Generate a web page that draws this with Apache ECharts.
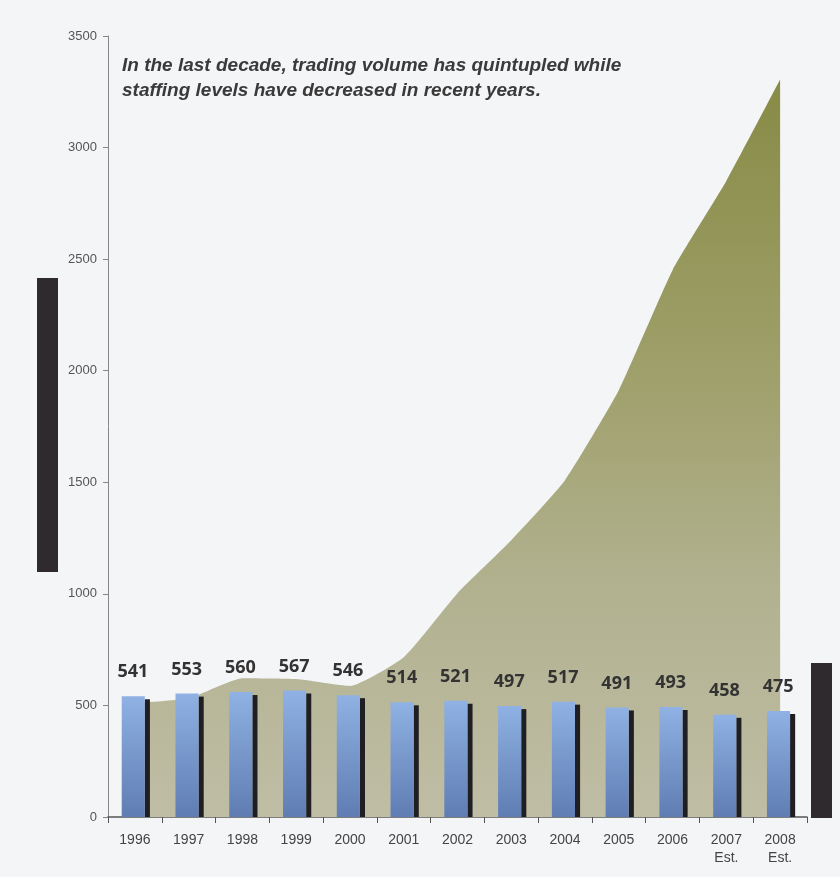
<!DOCTYPE html>
<html>
<head>
<meta charset="utf-8">
<script src="https://cdn.jsdelivr.net/npm/echarts@6/dist/echarts.min.js"></script>
<style>
html,body{margin:0;padding:0;background:#f4f5f7;}
#chart{width:840px;height:877px;}
</style>
</head>
<body>
<div id="chart"></div>
<script>
const categories = ['1996','1997','1998','1999','2000','2001','2002','2003','2004','2005','2006','2007\nEst.','2008\nEst.'];
const staffing = [541,553,560,567,546,514,521,497,517,491,493,458,475];
const tradingVolume = [510,532,622,618,587,716,1003,1240,1509,1912,2450,2850,3305];
const yTicks = {min:0, max:3500, interval:500};
const titleLines = ['In the last decade, trading volume has quintupled while','staffing levels have decreased in recent years.'];

const chart = echarts.init(document.getElementById('chart'), null, {renderer:'canvas'});

const barGradient = new echarts.graphic.LinearGradient(0,0,0,1,[
  {offset:0,color:'#8fb1e3'},{offset:1,color:'#5f7db3'}]);

function renderBar(params, api){
  const idx = api.value(0);
  const val = api.value(1);
  const top = api.coord([idx, val]);
  const base = api.coord([idx, 0]);
  const band = api.size([1,0])[0];
  const cx = top[0];
  const bx = cx - band*0.245;
  const bw = band*0.43;
  const sx = bx + bw;
  const sw = band*0.095;
  const h = base[1]-top[1];
  return {
    type:'group',
    children:[
      {type:'rect', shape:{x:sx, y:top[1]+3, width:sw, height:h-3}, style:{fill:'#1f1e23'}},
      {type:'rect', shape:{x:bx, y:top[1], width:bw, height:h}, style:{fill:barGradient}},
      {type:'text', x:cx-2, y:top[1]-24, style:{text:String(val), font:'bold 18px "Open Sans"', fill:'#333', align:'center', verticalAlign:'middle'}}
    ]
  };
}

chart.setOption({
  backgroundColor:'#f4f5f7',
  animation:false,
  grid:{left:108, right:33, top:36, bottom:60, containLabel:false},
  xAxis:{
    type:'category',
    data:categories,
    boundaryGap:true,
    axisLine:{lineStyle:{color:'#555', width:1.5}},
    axisTick:{show:true, length:6, lineStyle:{color:'#555'}},
    axisLabel:{color:'#444', fontFamily:'"Liberation Sans", Arial', fontSize:14, lineHeight:18, margin:14, interval:0}
  },
  yAxis:{
    type:'value',
    min:yTicks.min, max:yTicks.max, interval:yTicks.interval,
    splitLine:{show:false},
    axisLine:{show:true, lineStyle:{color:'#888', width:1}},
    axisTick:{show:true, length:5, lineStyle:{color:'#888'}},
    axisLabel:{color:'#555', fontFamily:'"Liberation Sans", Arial', fontSize:13, margin:11, formatter:(v)=>String(v)}
  },
  series:[
    {
      type:'line',
      data:tradingVolume,
      symbol:'none',
      smooth:0.15,
      lineStyle:{width:0},
      areaStyle:{
        opacity:1,
        color:new echarts.graphic.LinearGradient(0,0,0,1,[
          {offset:0,color:'#878b45'},
          {offset:0.4,color:'#9fa06b'},
          {offset:0.7,color:'#b2b291'},
          {offset:1,color:'#bfbda4'}])
      },
      z:1
    },
    {
      type:'custom',
      renderItem:renderBar,
      data:staffing.map((v,i)=>[i,v]),
      encode:{x:0,y:1},
      z:3
    }
  ],
  graphic:[
    {type:'rect', left:37, top:278, shape:{width:21, height:294}, style:{fill:'#2e2a2d'}},
    {type:'rect', left:811, top:663, shape:{width:21, height:155}, style:{fill:'#2e2a2d'}},
    {type:'text', left:122, top:53, style:{text:titleLines.join('\n'), font:'italic bold 19px "Liberation Sans", Arial', lineHeight:25, fill:'#3a3a3a'}}
  ]
});
</script>
</body>
</html>
